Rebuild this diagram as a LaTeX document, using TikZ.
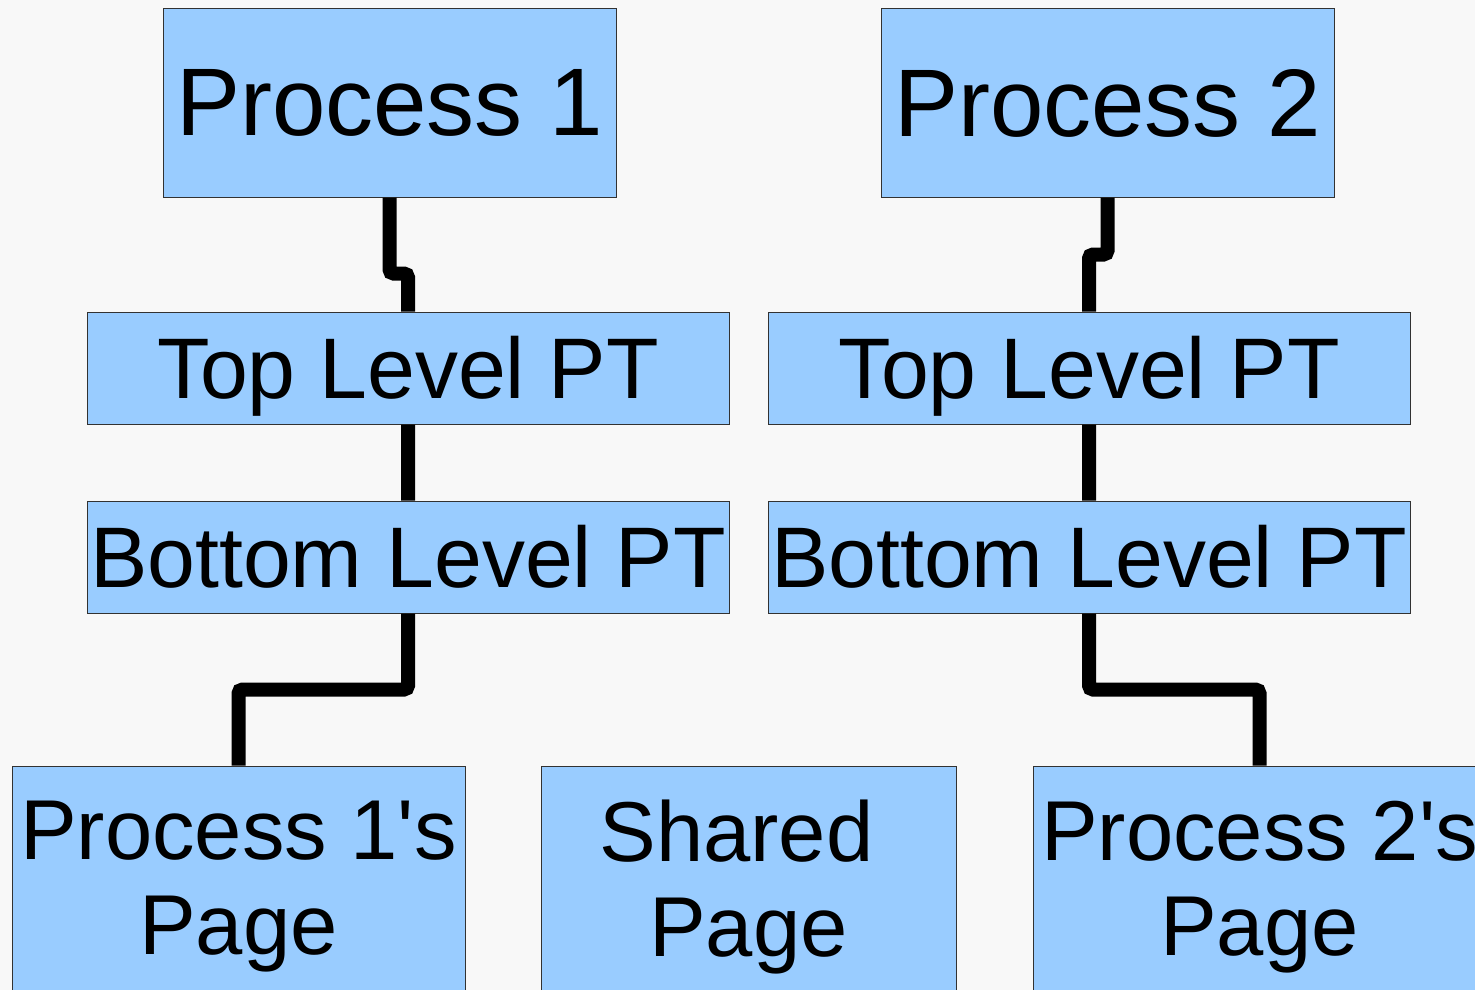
\documentclass[tikz,border=0pt]{standalone}
\usepackage{fontspec}
\setmainfont{Liberation Sans}
\definecolor{boxblue}{RGB}{153,204,255}
\definecolor{bggray}{RGB}{248,248,248}
\definecolor{edgegray}{RGB}{50,50,50}

\begin{document}
\begin{tikzpicture}[x=1pt,y=-1pt,
 box/.style = {draw=edgegray,line width=1pt,fill=boxblue,inner sep=0pt,align=center,text=black},
 big/.style = {box,font=\fontsize{96}{100}\selectfont,minimum width=453pt,minimum height=188pt},
 level/.style = {box,font=\fontsize{86}{95}\selectfont,minimum width=642pt,minimum height=112pt,text height=71pt,text depth=11pt},
 page/.style = {box,font=\fontsize{85}{95}\selectfont,minimum height=242pt},
 link/.style = {line width=14pt,rounded corners=4pt}
]
\useasboundingbox (0,0) rectangle (1475,990);
\fill[bggray] (0,0) rectangle (1475,990);

\node (proc1)[big]   at (389.5,103)  {Process 1};
\node (proc2)[big]   at (1107.5,103) {Process 2};
\node (top1)[level]  at (408,368)    {Top Level PT};
\node (top2)[level]  at (1089,368)   {Top Level PT};
\node (bot1)[level]  at (408,557)    {Bottom Level PT};
\node (bot2)[level]  at (1089,557)   {Bottom Level PT};
\node (page1)[page,minimum width=453pt]  at (238.5,887)  {Process 1\textquotesingle s\\Page};
\node (shared)[page,minimum width=415pt] at (748.5,887)  {Shared\hspace*{24pt}\\Page};
\node (page2)[page,minimum width=453pt]  at (1259.5,887) {Process 2\textquotesingle s\\Page};

\draw[link] (proc1.south) -- ++(0,76) -| (top1.north)
            (top1) -- (bot1)
            (bot1.south) -- ++(0,76) -| (page1.north);
\draw[link] (proc2.south) -- ++(0,57) -| (top2.north)
            (top2) -- (bot2)
            (bot2.south) -- ++(0,76) -| (page2.north);
\end{tikzpicture}
\end{document}
